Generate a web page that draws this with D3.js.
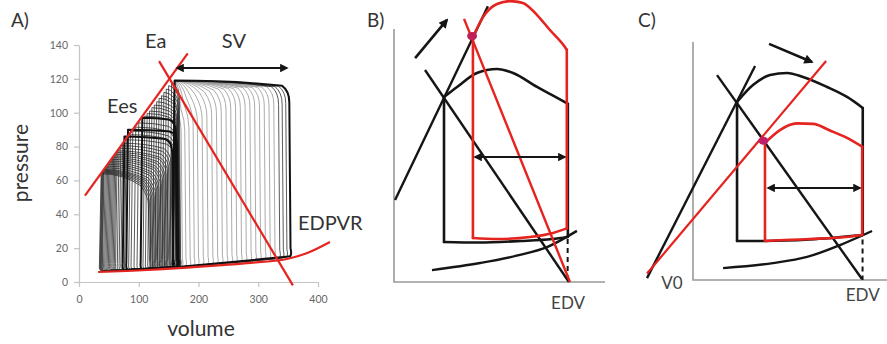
<!DOCTYPE html>
<html><head><meta charset="utf-8">
<script src="https://cdn.jsdelivr.net/npm/d3@7"></script>
<style>
body{margin:0;background:#fff}
text{font-family:Lato,"Open Sans",sans-serif}
</style>
</head><body>
<svg id="c" width="887" height="344"></svg>
<script>
// ---------------- DATA ----------------
// Panel A (real axes)
const aXTicks = [0, 100, 200, 300, 400];
const aYTicks = [0, 20, 40, 60, 80, 100, 120, 140];
const aEesLine = [[10, 51], [182, 135]];
const aEaLine = [[134, 130.5], [358, -2]];
const aEdpvrV = [32, 114, 197, 281, 348, 382, 420];
const aEdpvrP = [5.9, 7.1, 8.9, 11.2, 13.6, 17.1, 23.6];
const aSVArrow = [[164, 126.4], [348, 126.4]];
// loop family (end-systolic volume, end-diastolic volume, top-left and top-right pressure, tone)
const loopEsv = [
  160,160,160,160,160,160,160,160,160,160,160,160,160,160,160,160,160,160,160,160,160,160,160,160,160,
  155,150,146,142,138,134,130,126,122,118,114,110,
  106,100,95,90,86,82,79,76,73,70,67,64,62,60,58,56,54,52,50,48,46,44,42,41,40,39,38,37];
const loopEdv = [
  356,350,344,338,330,322,314,306,298,290,282,274,266,258,250,242,234,226,218,210,202,195,188,181,175,
  172,171,170,170,169,169,168,168,167,167,166,166,
  166,166,165,165,164,168,163,160,158,156,154,152,150,148,146,144,142,140,138,136,134,132,130,128,126,124,122,120];
const loopPtl = [
  119,119,119,119,119,119,119,119,119,119,119,119,119,119,119,119,119,119,119,119,119,119,119,119,119,
  117.5,116,114,112,110,108.5,106.5,104.5,103,101,99.5,98,
  97,94,91.5,89,87,90,84,86,82,80.5,79,77.5,76.5,75.5,74.5,73.5,72.5,71.5,70.5,69.5,68.5,67.5,66.5,66,65.5,65,64.5,64];
const loopPtr = [
  113,112.5,112,112,112,111.5,111.5,111,111,111,110.5,110,110,109.5,109,108,107,106,105,103.5,102,100,98,96,94,
  114,112,110,108,106,104.5,102.5,100.5,99,97,95.5,94,
  95,90,87,84,82,88,79,83,76,74,72,70,69,67,66,64,63,62,60,59,58,56,55,54,53,52,51,50];
const loopTone = [
  2,1,1,1,0,0,0,0,0,0,0,0,0,0,0,0,0,0,0,0,0,0,0,0,0,
  1,1,1,1,1,1,1,1,1,1,1,1,
  2,1,1,1,1,2,1,2,1,1,1,1,1,1,1,1,1,1,1,1,1,1,1,1,1,1,1,1];

// Panel B (schematic units 0-100)
const bEes = [[0.5, 32.4], [44.5, 109]];
const bEaBlack = [[14.7, 83.8], [82.9, 0]];
const bEaRed = [[33.2, 104], [83.4, 0]];
const bDot = [37, 97.2];
const bBlackTop = [[23.7,73.1],[29.9,77.1],[39.3,82.6],[48.8,84.2],[56.4,82.6],[67.8,77.1],[81,71.1],[82.4,70.4]];
const bBlackBottom = [[23.7,15.8],[40,15.6],[60,16.2],[75,17.0],[82.4,17.8]];
const bRedTop = [[37.4,96.8],[42.2,104.7],[48.8,109.9],[55,111],[61.1,110.3],[67.8,105.5],[73.9,99.6],[81,92.9],[81.9,91.8]];
const bRedBottom = [[37.4,17.4],[48.8,17.0],[64.5,17.8],[75.4,19.4],[81.9,21.2]];
const bEdpvr = [[18,4.7],[40.8,7.5],[59.7,10.7],[72.5,13.8],[86.7,20.2]];
const bDashed = [[82.3,17],[82.3,0]];
const bSVArrow = [[38.4,49.4],[81,49.4]];
const bArrow = [[10,88.5],[25.1,103.6]];

// Panel C (schematic units 0-100)
const cEesBlack = [[-23.7,0.8],[32,89.9]];
const cEesRed = [[-23.7,2.7],[68.6,92]];
const cEa = [[12.4,86.1],[87.1,0.4]];
const cDot = [36.3,58.5];
const cBlackTop = [[22.7,74.8],[30.9,81.9],[39.7,86.1],[48.5,87],[56.7,85.3],[69.1,81.1],[79.4,76.9],[87.5,72.3]];
const cBlackBottom = [[22.7,16.4],[37.1,16.4],[60,17],[87.5,18.9]];
const cRedTop = [[37.1,57.6],[44.8,63],[53.6,65.8],[61.9,65.6],[70.6,62.8],[79.4,59.7],[87.2,56]];
const cRedBottom = [[37.1,16.4],[60,17.2],[80,18.2],[87.2,18.9]];
const cEdpvr = [[15.5,5],[41.2,7.1],[58.8,9.7],[75.8,14.7],[92.3,20.6]];
const cDashed = [[87.4,17],[87.4,0]];
const cSVArrow = [[38.7,38.7],[86.1,38.7]];
const cArrow = [[39.2,99.2],[61.3,91.6]];

// ---------------- DRAW ----------------
const RED = '#e5231f', BLK = '#151515';
const svg = d3.select('#c');
svg.append('rect').attr('width', 887).attr('height', 344).attr('fill', '#fff');

const defs = svg.append('defs');
function marker(id, size) {
  defs.append('marker').attr('id', id).attr('viewBox', '0 0 10 10')
    .attr('refX', 8).attr('refY', 5).attr('markerUnits', 'userSpaceOnUse')
    .attr('markerWidth', size).attr('markerHeight', size * 0.85)
    .attr('orient', 'auto-start-reverse')
    .append('path').attr('d', 'M0,0 L10,5 L0,10 z').attr('fill', BLK);
}
marker('ahA', 10);
marker('ahB', 11);

// ===== Panel A =====
const xA = d3.scaleLinear().domain([0, 400]).range([79, 318]);
const yA = d3.scaleLinear().domain([0, 140]).range([282, 45]);
const fA = d3.scaleLinear().domain(aEdpvrV).range(aEdpvrP).clamp(true);
const gA = svg.append('g');

const axXg = gA.append('g').attr('transform', `translate(0,${yA(0)})`)
  .call(d3.axisBottom(xA).tickValues(aXTicks).tickSize(5).tickSizeOuter(0).tickPadding(9));
const axYg = gA.append('g').attr('transform', `translate(${xA(0)},0)`)
  .call(d3.axisLeft(yA).tickValues(aYTicks).tickSize(5).tickSizeOuter(0).tickPadding(6));
[axXg, axYg].forEach(g => {
  g.selectAll('path,line').attr('stroke', '#c4c4c4').attr('stroke-width', 1.2);
  g.selectAll('text').attr('fill', '#666').attr('font-size', 10.5).attr('font-family', 'Lato, sans-serif');
});

function loopPath(esv, edv, ptl, ptr) {
  const lean = 4, k = 4;
  const w = edv - esv;
  const pb0 = fA(esv) + 0.6, pb1 = fA(edv) + 0.6;
  const rx = Math.min(0.3 * w, 12);
  const ry = Math.min(0.09 * (ptr - pb1), 7);
  const xr = edv - k;
  const p = d3.path();
  p.moveTo(xA(esv), yA(ptl));
  p.lineTo(xA(esv - lean * 0.7), yA(pb0 + 4));
  p.quadraticCurveTo(xA(esv - lean), yA(pb0), xA(esv - lean + 5), yA(pb0));
  p.lineTo(xA(edv - 5), yA(pb1));
  p.quadraticCurveTo(xA(edv + 1), yA(pb1), xA(edv - 2), yA(pb1 + 5));
  p.lineTo(xA(xr), yA(ptr - ry));
  p.quadraticCurveTo(xA(xr), yA(ptr), xA(xr - rx), yA(ptr + 0.04 * (ptl - ptr) * rx));
  p.quadraticCurveTo(xA(esv + 0.55 * (xr - rx - esv)), yA(ptl), xA(esv), yA(ptl));
  p.closePath();
  return p.toString();
}
const toneStroke = ['#8a8a8a', '#262626', '#111'];
const toneWidth = [0.8, 0.9, 2];
const toneOp = [0.9, 0.85, 1];
const order = d3.range(loopEsv.length).sort((a, b) => loopTone[a] - loopTone[b]);
gA.append('g').selectAll('path').data(order).join('path')
  .attr('d', i => loopPath(loopEsv[i], loopEdv[i], loopPtl[i], loopPtr[i]))
  .attr('fill', 'none')
  .attr('stroke', i => toneStroke[loopTone[i]])
  .attr('stroke-width', i => toneWidth[loopTone[i]])
  .attr('stroke-opacity', i => toneOp[loopTone[i]])
  .attr('stroke-linejoin', 'round');

const lineA = d3.line().x(d => xA(d[0])).y(d => yA(d[1]));
gA.append('path').attr('d', d3.line().x(d => xA(d[0])).y(d => yA(d[1])).curve(d3.curveMonotoneX)(aEdpvrV.map((v, i) => [v, aEdpvrP[i]])))
  .attr('fill', 'none').attr('stroke', RED).attr('stroke-width', 2.2);
gA.append('path').attr('d', lineA(aEesLine)).attr('stroke', RED).attr('stroke-width', 2.2);
gA.append('path').attr('d', lineA(aEaLine)).attr('stroke', RED).attr('stroke-width', 2.2);
gA.append('path').attr('d', lineA(aSVArrow)).attr('stroke', BLK).attr('stroke-width', 2)
  .attr('marker-start', 'url(#ahA)').attr('marker-end', 'url(#ahA)');

const labA = [['Ea', 110.5, 138.2], ['SV', 239, 138.2], ['Ees', 47, 99.8], ['EDPVR', 366.5, 30.7]];
gA.selectAll('text.lab').data(labA).join('text').attr('class', 'lab')
  .attr('x', d => xA(d[1])).attr('y', d => yA(d[2])).text(d => d[0])
  .attr('font-size', 20).attr('fill', '#333');
gA.append('text').attr('transform', 'translate(28,163) rotate(-90)').attr('text-anchor', 'middle')
  .attr('font-size', 21).attr('fill', '#333').text('pressure');
gA.append('text').attr('x', 201).attr('y', 336).attr('text-anchor', 'middle')
  .attr('font-size', 21).attr('fill', '#333').text('volume');
svg.append('text').attr('x', 11).attr('y', 27).attr('font-size', 19).attr('fill', '#333').text('A)');

// ===== Panels B & C helpers =====
function drawLoop(g, X, Y, top, bottom, color, w) {
  const c = d3.line().x(d => X(d[0])).y(d => Y(d[1])).curve(d3.curveMonotoneX);
  const l = d3.line().x(d => X(d[0])).y(d => Y(d[1]));
  const st = s => s.attr('fill', 'none').attr('stroke', color).attr('stroke-width', w)
    .attr('stroke-linecap', 'round').attr('stroke-linejoin', 'round');
  st(g.append('path').attr('d', c(top)));
  st(g.append('path').attr('d', c(bottom)));
  st(g.append('path').attr('d', l([top[0], bottom[0]])));
  st(g.append('path').attr('d', l([top[top.length - 1], bottom[bottom.length - 1]])));
}
function drawLine(g, X, Y, pts, color, w, curve) {
  const gen = d3.line().x(d => X(d[0])).y(d => Y(d[1]));
  if (curve) gen.curve(d3.curveMonotoneX);
  return g.append('path').attr('d', gen(pts)).attr('fill', 'none')
    .attr('stroke', color).attr('stroke-width', w).attr('stroke-linecap', 'butt');
}

// ===== Panel B =====
const xB = d3.scaleLinear().domain([0, 100]).range([394, 605]);
const yB = d3.scaleLinear().domain([0, 100]).range([282, 29]);
const gB = svg.append('g');
drawLine(gB, xB, yB, [[0, 100], [0, 0], [100, 0]], '#999', 1.6);
drawLine(gB, xB, yB, bEes, BLK, 2.4);
drawLine(gB, xB, yB, bEaBlack, BLK, 2.4);
drawLoop(gB, xB, yB, bBlackTop, bBlackBottom, BLK, 2.6);
drawLine(gB, xB, yB, bEdpvr, BLK, 2.4, true);
drawLine(gB, xB, yB, bDashed, BLK, 2).attr('stroke-dasharray', '5,4');
drawLoop(gB, xB, yB, bRedTop, bRedBottom, RED, 2.6);
drawLine(gB, xB, yB, bEaRed, RED, 2.4);
gB.append('ellipse').attr('cx', xB(bDot[0])).attr('cy', yB(bDot[1])).attr('rx', 5).attr('ry', 4)
  .attr('fill', '#c02058');
drawLine(gB, xB, yB, bSVArrow, BLK, 2).attr('marker-start', 'url(#ahA)').attr('marker-end', 'url(#ahA)');
drawLine(gB, xB, yB, bArrow, BLK, 2.6).attr('marker-end', 'url(#ahB)');
gB.append('text').attr('x', xB(82.5)).attr('y', 309).attr('text-anchor', 'middle')
  .attr('font-size', 17).attr('fill', '#444').text('EDV');
svg.append('text').attr('x', 367).attr('y', 27).attr('font-size', 19).attr('fill', '#333').text('B)');

// ===== Panel C =====
const xC = d3.scaleLinear().domain([0, 100]).range([693, 887]);
const yC = d3.scaleLinear().domain([0, 100]).range([280, 42]);
const gC = svg.append('g');
drawLine(gC, xC, yC, [[0, 100], [0, 0], [100, 0]], '#999', 1.6);
drawLine(gC, xC, yC, cEesBlack, BLK, 2.4);
drawLine(gC, xC, yC, cEa, BLK, 2.4);
drawLoop(gC, xC, yC, cBlackTop, cBlackBottom, BLK, 2.6);
drawLine(gC, xC, yC, cEdpvr, BLK, 2.4, true);
drawLine(gC, xC, yC, cDashed, BLK, 2).attr('stroke-dasharray', '5,4');
drawLoop(gC, xC, yC, cRedTop, cRedBottom, RED, 2.6);
drawLine(gC, xC, yC, cEesRed, RED, 2.2);
gC.append('ellipse').attr('cx', xC(cDot[0])).attr('cy', yC(cDot[1])).attr('rx', 5).attr('ry', 4)
  .attr('fill', '#c02068');
drawLine(gC, xC, yC, cSVArrow, BLK, 2).attr('marker-start', 'url(#ahA)').attr('marker-end', 'url(#ahA)');
drawLine(gC, xC, yC, cArrow, BLK, 2.6).attr('marker-end', 'url(#ahB)');
gC.append('text').attr('x', 672).attr('y', 289).attr('text-anchor', 'middle')
  .attr('font-size', 17).attr('fill', '#444').text('V0');
gC.append('text').attr('x', xC(87.5)).attr('y', 301).attr('text-anchor', 'middle')
  .attr('font-size', 17).attr('fill', '#444').text('EDV');
svg.append('text').attr('x', 638).attr('y', 27).attr('font-size', 19).attr('fill', '#333').text('C)');
</script>
</body></html>
